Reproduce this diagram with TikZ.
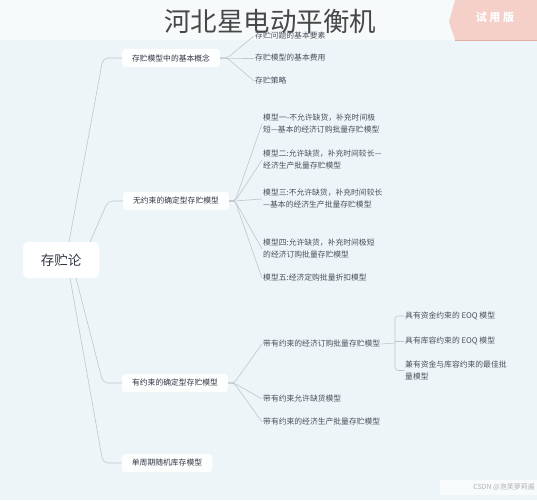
\documentclass[tikz,border=0pt]{standalone}
\usepackage{fontspec}
\setmainfont{Noto Sans CJK SC}
\definecolor{bgmain}{HTML}{EEF5F8}
\definecolor{bgtop}{HTML}{F6FAFB}
\definecolor{conncol}{HTML}{BFC7CB}
\definecolor{txtone}{HTML}{2F3542}
\definecolor{txttwo}{HTML}{4A505C}
\definecolor{badgecol}{HTML}{F5CCC3}
\definecolor{badgeline}{HTML}{E4ADA3}
\tikzset{
  rootbox/.style={fill=white, rounded corners=5pt, minimum width=76pt, minimum height=36pt, inner sep=0pt, text=txtone, font=\fontsize{13.5}{16}\selectfont},
  topicbox/.style={fill=white, fill opacity=0.9, text opacity=1, rounded corners=3pt, minimum height=18pt, inner xsep=10pt, inner ysep=0pt, text=txtone, font=\fontsize{7.8}{10}\selectfont},
  leaf/.style={anchor=west, inner sep=1pt, align=left, text=txttwo, font=\fontsize{7.8}{12}\selectfont},
  conn/.style={draw=conncol, line width=0.6pt, rounded corners=5pt},
}
\begin{document}
\begin{tikzpicture}[x=1pt,y=-1pt]
\useasboundingbox (0,0) rectangle (537,500);
\fill[bgmain] (0,0) rectangle (537,500);
\fill[bgtop] (0,0) rectangle (537,40);

% root
\node[rootbox] (root) at (61,260) {存贮论};

% level 1
\node[topicbox] (n1) at (171,58) {存贮模型中的基本概念};
\node[topicbox] (n2) at (176,201) {无约束的确定型存贮模型};
\node[topicbox] (n3) at (175,383) {有约束的确定型存贮模型};
\node[topicbox] (n4) at (167,463) {单周期随机库存模型};

\coordinate (r1) at (69,242);
\coordinate (r2) at (90,242);
\coordinate (r3) at (76,278);
\coordinate (r4) at (70,278);
\draw[conn] (r1) -- (103,58) -- (n1.west);
\draw[conn] (r2) -- (108,201) -- (n2.west);
\draw[conn] (r3) -- (103,383) -- (n3.west);
\draw[conn] (r4) -- (103,463) -- (n4.west);

% level 2 under n1
\node[leaf] (a1) at (254,36) {存贮问题的基本要素};
\node[leaf] (a2) at (254,58) {存贮模型的基本费用};
\node[leaf] (a3) at (254,81) {存贮策略};
\foreach \t in {a1,a2,a3}{
  \draw[conn, rounded corners=3pt] (n1.east) -- ++(7,0) -- (\t.west);
}

% level 2 under n2
\node[leaf] (b1) at (262,124) {模型一-不允许缺货，补充时间极\\短—基本的经济订购批量存贮模型};
\node[leaf] (b2) at (262,160) {模型二:允许缺货，补充时间较长—\\经济生产批量存贮模型};
\node[leaf] (b3) at (262,199) {模型三:不允许缺货，补充时间较长\\—基本的经济生产批量存贮模型};
\node[leaf] (b4) at (262,249) {模型四:允许缺货，补充时间极短\\的经济订购批量存贮模型};
\node[leaf] (b5) at (262,278) {模型五:经济定购批量折扣模型};
\foreach \t in {b1,b2,b3,b4,b5}{
  \draw[conn, rounded corners=3pt] (n2.east) -- ++(6,0) -- (\t.west);
}

% level 2 under n3
\node[leaf] (c1) at (262,344) {带有约束的经济订购批量存贮模型};
\node[leaf] (c2) at (262,399) {带有约束允许缺货模型};
\node[leaf] (c3) at (262,422) {带有约束的经济生产批量存贮模型};
\foreach \t in {c1,c2,c3}{
  \draw[conn, rounded corners=3pt] (n3.east) -- ++(6,0) -- (\t.west);
}

% level 3 under c1
\node[leaf] (d1) at (404,316) {具有资金约束的 EOQ 模型};
\node[leaf] (d2) at (404,341) {具有库容约束的 EOQ 模型};
\node[leaf] (d3) at (404,370.5) {兼有资金与库容约束的最佳批\\量模型};
\coordinate (br) at (395,343);
\draw[conn] (c1.east) -- (br);
\draw[conn, rounded corners=3pt] (d1.west) -- (395,316) -- (395,370.5) -- (d3.west);
\draw[conn] (395,341) -- (d2.west);

% title overlay
\node[inner sep=0pt, text=black!72, font=\fontsize{26.5}{30}\selectfont] (title) at (270,21) {河北星电动平衡机};

% badge
\fill[badgecol, fill opacity=0.9] (455,0) -- (537,0) -- (537,40) -- (455,40) -- (449,22) -- cycle;
\draw[badgeline, line width=0.8pt] (455,40) -- (537,40);
\node[inner sep=0pt, text=white, font=\fontsize{11}{12}\selectfont\bfseries] (badge) at (495,17) {试 用 版};

% watermark
\fill[white, fill opacity=0.6] (440,480) rectangle (537,495);
\node[anchor=east, inner sep=0pt, text=black!30, font=\fontsize{7}{8}\selectfont] (wm) at (535,487.5) {CSDN @泡芙萝莉酱};
\end{tikzpicture}
\end{document}
